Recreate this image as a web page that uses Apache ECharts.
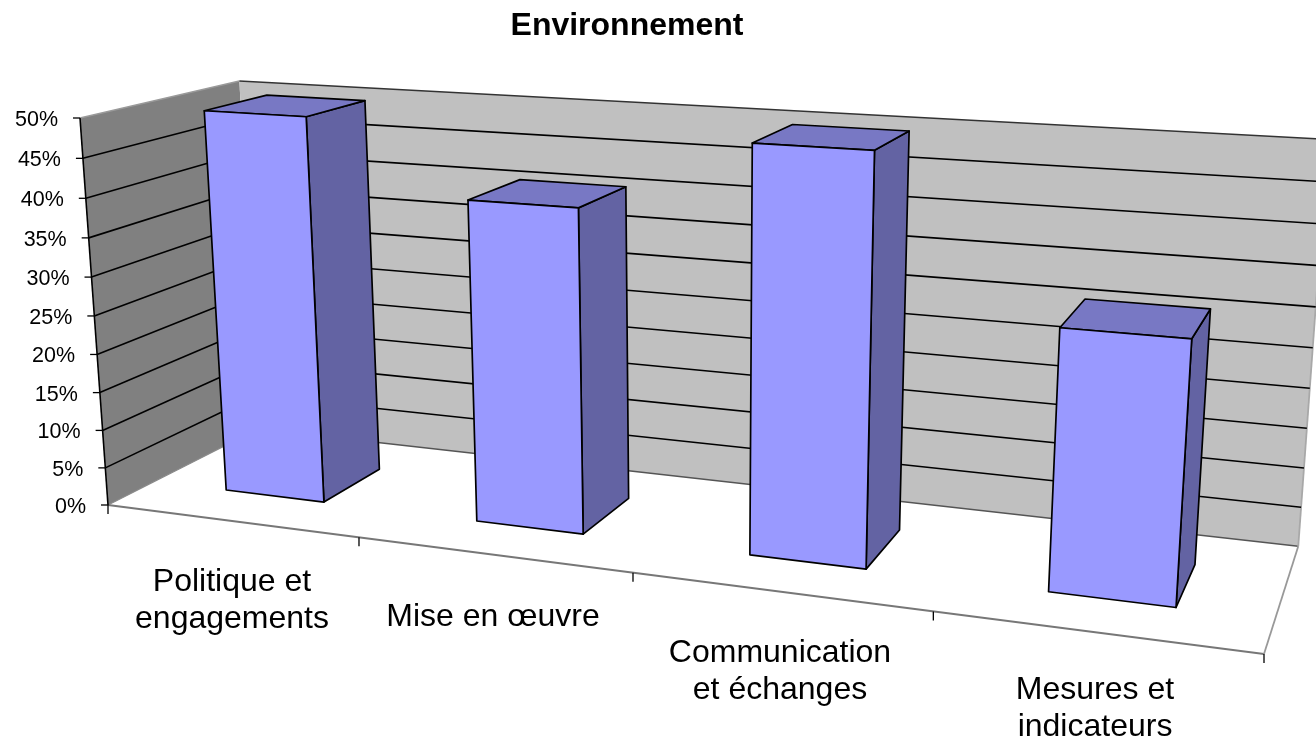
<!DOCTYPE html>
<html>
<head>
<meta charset="utf-8">
<style>html,body{margin:0;padding:0;background:#fff}#c{width:1316px;height:741px}</style>
<script src="https://cdn.jsdelivr.net/npm/echarts@6/dist/echarts.min.js"></script>
</head>
<body>
<div id="c"></div>
<script>
const titleText = 'Environnement';
const categories = ['Politique et\nengagements', 'Mise en œuvre', 'Communication\net échanges', 'Mesures et\nindicateurs'];
const values = [50, 41, 50, 31.3];
const tickValues = [0, 5, 10, 15, 20, 25, 30, 35, 40, 45, 50];
const tickLabels = ['0%', '5%', '10%', '15%', '20%', '25%', '30%', '35%', '40%', '45%', '50%'];

// Projection of the unit box (x along floor, y up, z into the picture) onto the page.
const O = [108, 505], X = [1264, 654], Y = [80, 118], Z = [258, 429];
const pa = -0.168, pb = -0.045, pc = 0.1168;
function project(x, y, z) {
  const w = 1 + pa * x + pb * y + pc * z;
  return [0, 1].map(i => (O[i]
    + x * (X[i] * (1 + pa) - O[i])
    + y * (Y[i] * (1 + pb) - O[i])
    + z * (Z[i] * (1 + pc) - O[i])) / w);
}
const GAP = 1.5, Z0 = 0.29, Z1 = 0.70;
const font = s => s + 'px "Liberation Sans", Arial, sans-serif';
const labelAnchors = [[232, 582], [493, 617], [780, 653], [1095, 690]];
const LINE_H = 37;

function unit(params, api, cat, v) {
  const p = api.coord([cat, v]), g = params.coordSys;
  return [(p[0] - g.x) / g.width, 1 - (p[1] - g.y) / g.height];
}
const poly = (pts, fill, stroke, lw) => ({
  type: 'polygon', shape: { points: pts },
  style: { fill: fill, stroke: stroke || null, lineWidth: lw || 0, lineJoin: 'round' }
});
const line = (a, b, stroke, lw) => ({
  type: 'line', shape: { x1: a[0], y1: a[1], x2: b[0], y2: b[1] },
  style: { stroke: stroke, lineWidth: lw }
});

function renderWalls() {
  return { type: 'group', children: [
    poly([project(0,0,0), project(0,1,0), project(0,1,1), project(0,0,1)], '#808080'),
    poly([project(0,0,1), project(0,1,1), project(1,1,1), project(1,0,1)], '#C0C0C0'),
    line(project(0,1,0), project(0,1,1), '#9a9a9a', 1.4),
    line(project(0,1,1), project(1,1,1), '#333333', 1.6),
    line(project(0,0,0), project(0,0,1), '#8a8a8a', 1.4),
    line(project(0,0,1), project(1,0,1), '#555555', 1.6),
    line(project(1,0,1), project(1,1,1), '#a8a8a8', 1.8),
    line(project(0,0,0), project(1,0,0), '#777777', 1.8),
    line(project(1,0,0), project(1,0,1), '#999999', 1.8),
    line(project(0,0,0), project(0,1,0), '#000000', 1.6)
  ]};
}
function renderGridline(params, api) {
  const v = api.value(0);
  const u = unit(params, api, 0, v)[1];
  const a = project(0, u, 0), b = project(0, u, 1), c = project(1, u, 1);
  const kids = [
    line([a[0] - 7, a[1]], a, '#000000', 1.3),
    { type: 'text', style: { text: tickLabels[params.dataIndex], x: a[0] - 22, y: a[1] + 2,
      fill: '#000000', font: font(21.5), align: 'right', verticalAlign: 'middle' } }
  ];
  if (params.dataIndex > 0 && params.dataIndex < tickValues.length - 1) {
    kids.push(line(a, b, '#000000', 1.6), line(b, c, '#000000', 1.6));
  }
  return { type: 'group', children: kids };
}
function renderCategory(params, api) {
  const i = params.dataIndex;
  const band = api.size([1, 0])[0] / params.coordSys.width;
  const mid = unit(params, api, i, 0)[0];
  const end = project(mid + band / 2, 0, 0);
  const kids = [line(end, [end[0], end[1] + 9], '#000000', 1.3)];
  if (i === 0) {
    const start = project(mid - band / 2, 0, 0);
    kids.push(line(start, [start[0], start[1] + 9], '#000000', 1.3));
  }
  categories[i].split('\n').forEach((t, k) => kids.push({
    type: 'text', style: { text: t, x: labelAnchors[i][0], y: labelAnchors[i][1] + k * LINE_H,
      fill: '#000000', font: font(32), align: 'center', verticalAlign: 'middle' }
  }));
  return { type: 'group', children: kids };
}
function renderBar(params, api) {
  const i = params.dataIndex;
  const u = unit(params, api, i, api.value(1));
  const band = api.size([1, 0])[0] / params.coordSys.width;
  const half = band / (1 + GAP) / 2;
  const x0 = u[0] - half, x1 = u[0] + half, h = u[1];
  const edge = '#000000', lw = 1.7;
  return { type: 'group', children: [
    poly([project(x1,0,Z0), project(x1,h,Z0), project(x1,h,Z1), project(x1,0,Z1)], '#6363A3', edge, lw),
    poly([project(x0,h,Z0), project(x0,h,Z1), project(x1,h,Z1), project(x1,h,Z0)], '#7878C4', edge, lw),
    poly([project(x0,0,Z0), project(x0,h,Z0), project(x1,h,Z0), project(x1,0,Z0)], '#9999FF', edge, lw)
  ]};
}

const chart = echarts.init(document.getElementById('c'));
chart.setOption({
  animation: false,
  backgroundColor: '#ffffff',
  title: {
    text: titleText, left: 622, top: 5, textAlign: 'center',
    textStyle: { fontFamily: '"Liberation Sans", Arial, sans-serif', fontWeight: 'bold', fontSize: 32, color: '#000000' }
  },
  grid: { left: 0, right: 0, top: 0, bottom: 0 },
  xAxis: { type: 'category', data: categories, show: false },
  yAxis: { type: 'value', min: 0, max: 50, interval: 5, show: false },
  series: [
    { type: 'custom', name: 'walls', silent: true, clip: false, z: 1, renderItem: renderWalls, data: [[0, 0]] },
    { type: 'custom', name: 'gridlines', silent: true, clip: false, z: 2, renderItem: renderGridline,
      encode: { y: 0 }, data: tickValues.map(v => [v]) },
    { type: 'custom', name: 'categories', silent: true, clip: false, z: 3, renderItem: renderCategory,
      data: categories.map((c, i) => [i, 0]) },
    { type: 'custom', name: 'Environnement', silent: true, clip: false, z: 4, renderItem: renderBar,
      encode: { x: 0, y: 1 }, data: values.map((v, i) => [i, v]) }
  ]
});
</script>
</body>
</html>
